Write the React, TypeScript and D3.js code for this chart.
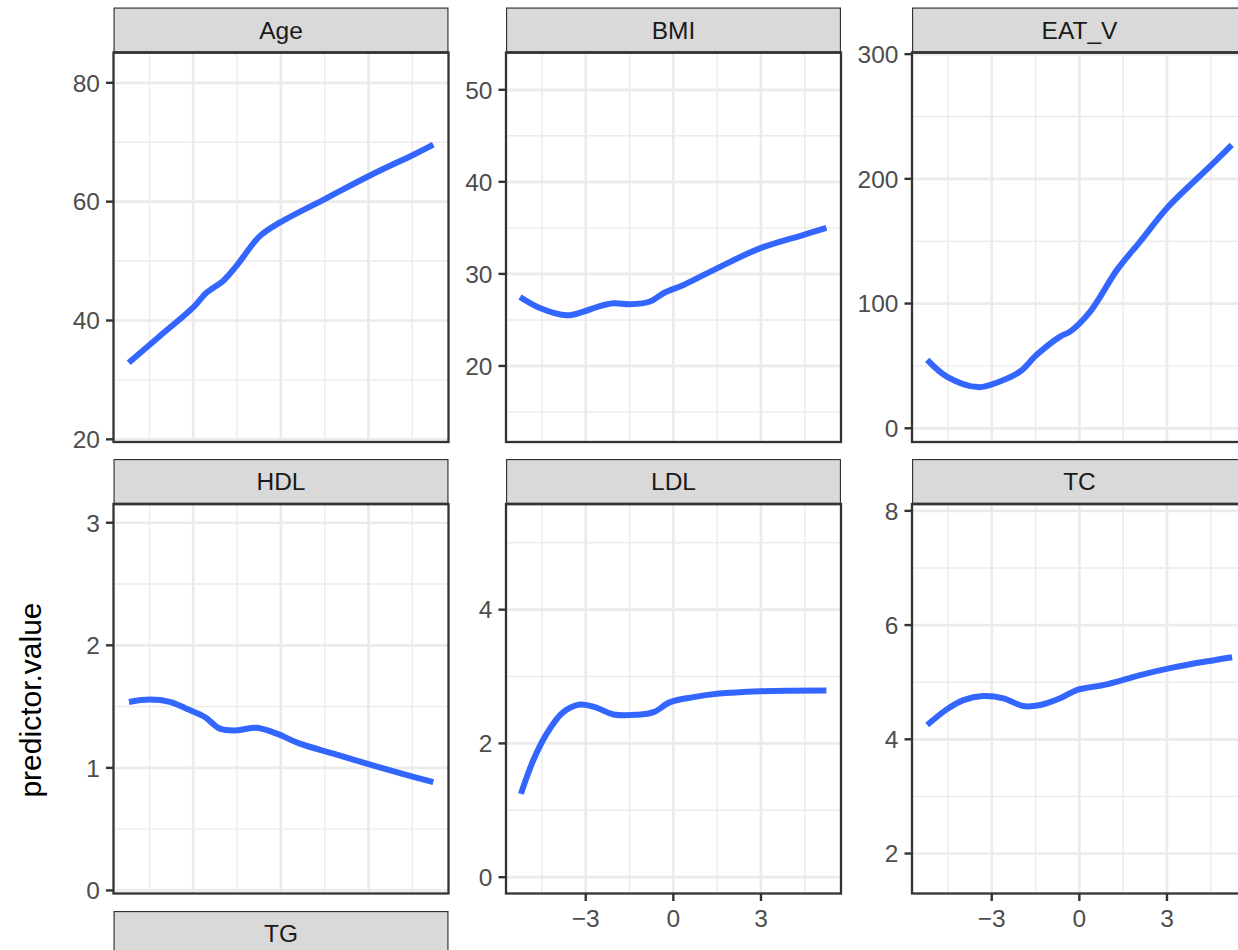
import React from 'react';
import * as d3 from 'd3';

// ---------- data ----------
const facetNames = ['Age', 'BMI', 'EAT_V', 'HDL', 'LDL', 'TC', 'TG'];

const xDomain: [number, number] = [-5.73, 5.74];
const xBreaks = [-3, 0, 3];
const xMinorBreaks = [-4.5, -1.5, 1.5, 4.5];

const ageX = [-5.21, -4.14, -3.0, -2.54, -1.97, -1.52, -0.72, -0.03, 1.57, 3.05, 4.54, 5.22];
const ageY = [32.9, 37.4, 42.2, 44.7, 46.7, 49.2, 54.2, 56.5, 60.6, 64.4, 67.9, 69.6];

const bmiX = [-5.25, -4.57, -3.65, -3.08, -2.62, -2.05, -1.48, -0.8, -0.34, 0.35, 1.49, 2.98, 4.46, 5.24];
const bmiY = [27.5, 26.3, 25.5, 25.9, 26.4, 26.8, 26.7, 27.0, 27.9, 28.8, 30.6, 32.8, 34.25, 35.0];

const eatX = [-5.21, -4.54, -3.46, -2.72, -2.03, -1.46, -0.66, -0.32, 0.37, 1.29, 2.08, 3.05, 4.48, 5.22];
const eatY = [54.8, 41.5, 33.0, 37.5, 45.5, 58.9, 73.5, 77.5, 93.6, 127, 149.7, 177.8, 210.2, 227.3];

const hdlX = [-5.2, -4.49, -3.8, -3.23, -2.6, -2.09, -1.52, -0.83, -0.14, 0.65, 1.8, 2.94, 4.08, 5.22];
const hdlY = [1.538, 1.557, 1.538, 1.483, 1.415, 1.32, 1.306, 1.328, 1.279, 1.198, 1.116, 1.034, 0.957, 0.884];

const ldlX = [-5.22, -4.8, -4.34, -3.77, -3.2, -2.62, -2.05, -1.25, -0.68, -0.11, 0.69, 1.49, 2.98, 5.24];
const ldlY = [1.246, 1.744, 2.144, 2.467, 2.582, 2.533, 2.433, 2.428, 2.467, 2.617, 2.692, 2.742, 2.781, 2.792];

const tcX = [-5.21, -4.54, -3.97, -3.29, -2.6, -1.92, -1.34, -0.66, -0.09, 0.94, 2.08, 3.23, 5.23];
const tcY = [4.249, 4.524, 4.687, 4.757, 4.717, 4.582, 4.6, 4.717, 4.862, 4.962, 5.125, 5.26, 5.436];

const ageDomain: [number, number] = [19.55, 85.1];
const bmiDomain: [number, number] = [11.74, 54.05];
const eatDomain: [number, number] = [-11, 301.3];
const hdlDomain: [number, number] = [-0.025, 3.153];
const ldlDomain: [number, number] = [-0.244, 5.58];
const tcDomain: [number, number] = [1.3, 8.12];

const ageBreaks = [20, 40, 60, 80];
const bmiBreaks = [20, 30, 40, 50];
const eatBreaks = [0, 100, 200, 300];
const hdlBreaks = [0, 1, 2, 3];
const ldlBreaks = [0, 2, 4];
const tcBreaks = [2, 4, 6, 8];

const yTitle = 'predictor.value';

// ---------- layout ----------
const W = 1238;
const H = 950;
const colLeft = [113.5, 506, 912];
const panelW = 335;
const stripTop = [7.5, 459, 911];
const stripH = 45;
const panelH = 389.5;
const FONT = "'Liberation Sans', Arial, Helvetica, sans-serif";
const LINE = '#3366FF';
const TICK_FS = 24.5;

type PanelDef = {
  name: string;
  xs: number[] | null;
  ys: number[] | null;
  domain: [number, number] | null;
  breaks: number[];
  xAxis: boolean;
};

const panels: PanelDef[] = [
  { name: facetNames[0], xs: ageX, ys: ageY, domain: ageDomain, breaks: ageBreaks, xAxis: false },
  { name: facetNames[1], xs: bmiX, ys: bmiY, domain: bmiDomain, breaks: bmiBreaks, xAxis: false },
  { name: facetNames[2], xs: eatX, ys: eatY, domain: eatDomain, breaks: eatBreaks, xAxis: false },
  { name: facetNames[3], xs: hdlX, ys: hdlY, domain: hdlDomain, breaks: hdlBreaks, xAxis: false },
  { name: facetNames[4], xs: ldlX, ys: ldlY, domain: ldlDomain, breaks: ldlBreaks, xAxis: true },
  { name: facetNames[5], xs: tcX, ys: tcY, domain: tcDomain, breaks: tcBreaks, xAxis: true },
  { name: facetNames[6], xs: null, ys: null, domain: null, breaks: [], xAxis: false },
];

function minorOf(breaks: number[], domain: [number, number]): number[] {
  if (breaks.length < 2) return [];
  const step = breaks[1] - breaks[0];
  const out: number[] = [];
  for (let v = breaks[0] - step / 2; v <= domain[1]; v += step) {
    if (v >= domain[0] && v <= domain[1] && !breaks.includes(v)) out.push(v);
  }
  return out;
}

const fmt = (v: number) => (v < 0 ? '\u2212' + Math.abs(v) : String(v));

function Panel({ p, i }: { p: PanelDef; i: number }) {
  const col = i % 3;
  const row = Math.floor(i / 3);
  const left = colLeft[col];
  const sTop = stripTop[row];
  const top = sTop + stripH;
  const bottom = top + panelH;
  const x = d3.scaleLinear().domain(xDomain).range([left, left + panelW]);
  const clipId = `clip-${i}`;
  const stripClip = `sclip-${i}`;

  let body: React.ReactNode = null;
  if (p.domain && p.xs && p.ys) {
    const y = d3.scaleLinear().domain(p.domain).range([bottom, top]);
    const pts: [number, number][] = p.xs.map((xv, k) => [xv, p.ys![k]]);
    const line = d3
      .line<[number, number]>()
      .x((d) => x(d[0]))
      .y((d) => y(d[1]))
      .curve(d3.curveCatmullRom.alpha(0.5));
    const yMinor = minorOf(p.breaks, p.domain);
    body = (
      <g>
        <rect x={left} y={top} width={panelW} height={panelH} fill="#FFFFFF" />
        <g clipPath={`url(#${clipId})`}>
          {yMinor.map((v) => (
            <line key={'ym' + v} x1={left} x2={left + panelW} y1={y(v)} y2={y(v)} stroke="#EBEBEB" strokeWidth={1.4} />
          ))}
          {xMinorBreaks.map((v) => (
            <line key={'xm' + v} x1={x(v)} x2={x(v)} y1={top} y2={bottom} stroke="#EBEBEB" strokeWidth={1.4} />
          ))}
          {p.breaks.map((v) => (
            <line key={'yM' + v} x1={left} x2={left + panelW} y1={y(v)} y2={y(v)} stroke="#EBEBEB" strokeWidth={2.7} />
          ))}
          {xBreaks.map((v) => (
            <line key={'xM' + v} x1={x(v)} x2={x(v)} y1={top} y2={bottom} stroke="#EBEBEB" strokeWidth={2.7} />
          ))}
          <path d={line(pts) || ''} fill="none" stroke={LINE} strokeWidth={6} strokeLinejoin="round" />
        </g>
        <rect x={left} y={top} width={panelW} height={panelH} fill="none" stroke="#333333" strokeWidth={2.3} />
        {/* y axis */}
        {p.breaks.map((v) => (
          <g key={'yt' + v}>
            <line x1={left - 7.5} x2={left} y1={y(v)} y2={y(v)} stroke="#333333" strokeWidth={2.4} />
            <text
              x={left - 13.5}
              y={y(v)}
              dy="0.36em"
              textAnchor="end"
              fontSize={TICK_FS}
              fontFamily={FONT}
              fill="#4D4D4D"
            >
              {fmt(v)}
            </text>
          </g>
        ))}
        {p.xAxis &&
          xBreaks.map((v) => (
            <g key={'xt' + v}>
              <line x1={x(v)} x2={x(v)} y1={bottom} y2={bottom + 7.5} stroke="#333333" strokeWidth={2.4} />
              <text x={x(v)} y={bottom + 33.5} textAnchor="middle" fontSize={TICK_FS} fontFamily={FONT} fill="#4D4D4D">
                {fmt(v)}
              </text>
            </g>
          ))}
      </g>
    );
  }

  return (
    <g>
      <defs>
        <clipPath id={clipId}>
          <rect x={left} y={top} width={panelW} height={panelH} />
        </clipPath>
        <clipPath id={stripClip}>
          <rect x={left} y={sTop} width={panelW} height={stripH} />
        </clipPath>
      </defs>
      {body}
      <g clipPath={`url(#${stripClip})`}>
        <rect x={left} y={sTop} width={panelW} height={stripH} fill="#D9D9D9" stroke="#333333" strokeWidth={2.3} />
      </g>
      <text
        x={left + panelW / 2}
        y={sTop + stripH / 2}
        dy="0.36em"
        textAnchor="middle"
        fontSize={TICK_FS}
        fontFamily={FONT}
        fill="#1A1A1A"
      >
        {p.name}
      </text>
      {p.domain && (
        <line x1={left} x2={left + panelW} y1={top} y2={top} stroke="#333333" strokeWidth={2.3} />
      )}
    </g>
  );
}

export default function App() {
  return (
    <svg
      width={W}
      height={H}
      viewBox={`0 0 ${W} ${H}`}
      style={{ position: 'absolute', left: 0, top: 0, background: '#FFFFFF', overflow: 'hidden' }}
    >
      <rect x={0} y={0} width={W} height={H} fill="#FFFFFF" />
      {panels.map((p, i) => (
        <Panel key={p.name} p={p} i={i} />
      ))}
      <text
        transform="translate(41,700) rotate(-90)"
        textAnchor="middle"
        fontSize={30}
        fontFamily={FONT}
        fill="#000000"
      >
        {yTitle}
      </text>
    </svg>
  );
}
